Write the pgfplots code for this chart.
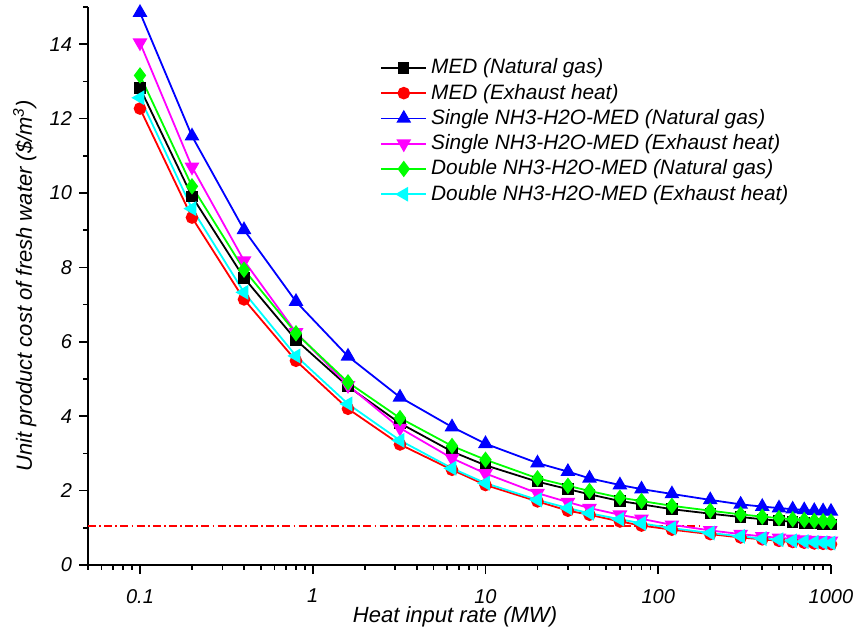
\documentclass[border=0pt]{standalone}
\usepackage{fontspec}
\setmainfont{Liberation Sans}
\usepackage{pgfplots}
\pgfplotsset{compat=1.18}
\definecolor{pMag}{RGB}{255,0,255}
\definecolor{pCyan}{RGB}{0,255,255}
\definecolor{pGreen}{RGB}{0,255,0}
\definecolor{pBlue}{RGB}{0,0,255}
\definecolor{pRed}{RGB}{255,0,0}

\begin{document}
\begin{tikzpicture}
\path[use as bounding box] (-44pt,-34pt) rectangle (385.5pt,282.5pt);
\begin{axis}[
    at={(0,0)}, anchor=south west,
    scale only axis, width=371.5pt, height=279pt,
    xmode=log, xmin=0.05, xmax=1000, ymin=0, ymax=15,
    axis x line*=bottom, axis y line*=left,
    axis line style={line width=1pt},
    xtick={0.1,1,10,100,1000}, xticklabels={0.1,1,10,100,1000},
    minor xtick={0.05,0.06,0.07,0.08,0.09,0.2,0.3,0.4,0.5,0.6,0.7,0.8,0.9,2,3,4,5,6,7,8,9,20,30,40,50,60,70,80,90,200,300,400,500,600,700,800,900},
    ytick={0,2,...,14}, minor ytick={1,3,...,15},
    tick align=outside, major tick length=4.5pt, minor tick length=2.5pt,
    tick style={line width=0.8pt, black},
    ticklabel style={font=\fontsize{10}{12}\selectfont\itshape},
    xticklabel shift=4pt,
    /pgf/number format/assume math mode=true,
    xlabel={Heat input rate (MW)},
    ylabel={Unit product cost of fresh water (\$/m\textsuperscript{3})},
    label style={font=\fontsize{11}{13}\selectfont\itshape},
    xlabel style={at={(axis description cs:0.494,-0.093)}, anchor=center},
    ylabel style={at={(axis description cs:-0.085,0.5)}, anchor=center},
    legend style={draw=none, fill=none, at={(axis description cs:0.393,0.915)}, anchor=north west,
        font=\fontsize{10.4}{12}\selectfont\itshape, row sep=-0.4pt, inner sep=0pt},
    legend cell align=left,
    legend image code/.code={\draw[mark repeat=2,mark phase=2] plot coordinates {(0pt,0pt) (11.25pt,0pt) (22.5pt,0pt)};},
    every axis plot/.append style={line width=0.9pt},
]
% reference line
\addplot[pRed, line width=0.9pt, dash pattern=on 4pt off 1.6pt on 0.9pt off 1.6pt, forget plot]
    coordinates {(0.05,1.05) (175,1.05)};

\addplot[black, mark=square*, mark size=2.4pt, mark options={solid, fill=black}] coordinates {
 (0.1,12.82) (0.2,9.91) (0.4,7.72) (0.8,6.05) (1.6,4.80) (3.2,3.81) (6.4,3.05) (10,2.68)
 (20,2.24) (30,2.04) (40,1.90) (60,1.72) (80,1.63) (120,1.50) (200,1.38) (300,1.29)
 (400,1.23) (500,1.19) (600,1.16) (700,1.13) (800,1.11) (900,1.10) (1000,1.09)
};
\addlegendentry{MED (Natural gas)}

\addplot[pRed, mark=*, mark size=2.7pt, mark options={solid, fill=pRed}] coordinates {
 (0.1,12.27) (0.2,9.34) (0.4,7.14) (0.8,5.49) (1.6,4.20) (3.2,3.24) (6.4,2.56) (10,2.15)
 (20,1.71) (30,1.46) (40,1.35) (60,1.17) (80,1.06) (120,0.95) (200,0.83) (300,0.74)
 (400,0.69) (500,0.65) (600,0.62) (700,0.60) (800,0.58) (900,0.57) (1000,0.56)
};
\addlegendentry{MED (Exhaust heat)}

\addplot[pBlue, mark=triangle*, mark size=3.4pt, mark options={solid, fill=pBlue}] coordinates {
 (0.1,14.85) (0.2,11.53) (0.4,9.01) (0.8,7.08) (1.6,5.61) (3.2,4.51) (6.4,3.71) (10,3.26)
 (20,2.74) (30,2.51) (40,2.33) (60,2.15) (80,2.04) (120,1.91) (200,1.75) (300,1.63)
 (400,1.57) (500,1.53) (600,1.50) (700,1.48) (800,1.46) (900,1.45) (1000,1.44)
};
\addlegendentry{Single NH3-H2O-MED (Natural gas)}

\addplot[pMag, mark=triangle*, mark size=3.4pt, mark options={solid, fill=pMag, rotate=180}] coordinates {
 (0.1,14.04) (0.2,10.70) (0.4,8.18) (0.8,6.25) (1.6,4.83) (3.2,3.68) (6.4,2.87) (10,2.46)
 (20,1.93) (30,1.69) (40,1.53) (60,1.35) (80,1.24) (120,1.08) (200,0.93) (300,0.83)
 (400,0.77) (500,0.73) (600,0.70) (700,0.68) (800,0.67) (900,0.66) (1000,0.65)
};
\addlegendentry{Single NH3-H2O-MED (Exhaust heat)}

\addplot[pGreen, mark=diamond*, mark size=3.4pt, mark options={solid, fill=pGreen}] coordinates {
 (0.1,13.16) (0.2,10.18) (0.4,7.94) (0.8,6.23) (1.6,4.91) (3.2,3.95) (6.4,3.20) (10,2.83)
 (20,2.33) (30,2.13) (40,1.99) (60,1.81) (80,1.72) (120,1.59) (200,1.46) (300,1.36)
 (400,1.30) (500,1.26) (600,1.23) (700,1.21) (800,1.19) (900,1.18) (1000,1.17)
};
\addlegendentry{Double NH3-H2O-MED (Natural gas)}

\addplot[pCyan, mark=triangle*, mark size=3.4pt, mark options={solid, fill=pCyan, rotate=90}] coordinates {
 (0.1,12.56) (0.2,9.58) (0.4,7.33) (0.8,5.62) (1.6,4.33) (3.2,3.35) (6.4,2.60) (10,2.20)
 (20,1.75) (30,1.53) (40,1.39) (60,1.23) (80,1.12) (120,0.99) (200,0.86) (300,0.77)
 (400,0.71) (500,0.68) (600,0.65) (700,0.63) (800,0.61) (900,0.60) (1000,0.59)
};
\addlegendentry{Double NH3-H2O-MED (Exhaust heat)}
\end{axis}
\end{tikzpicture}
\end{document}
